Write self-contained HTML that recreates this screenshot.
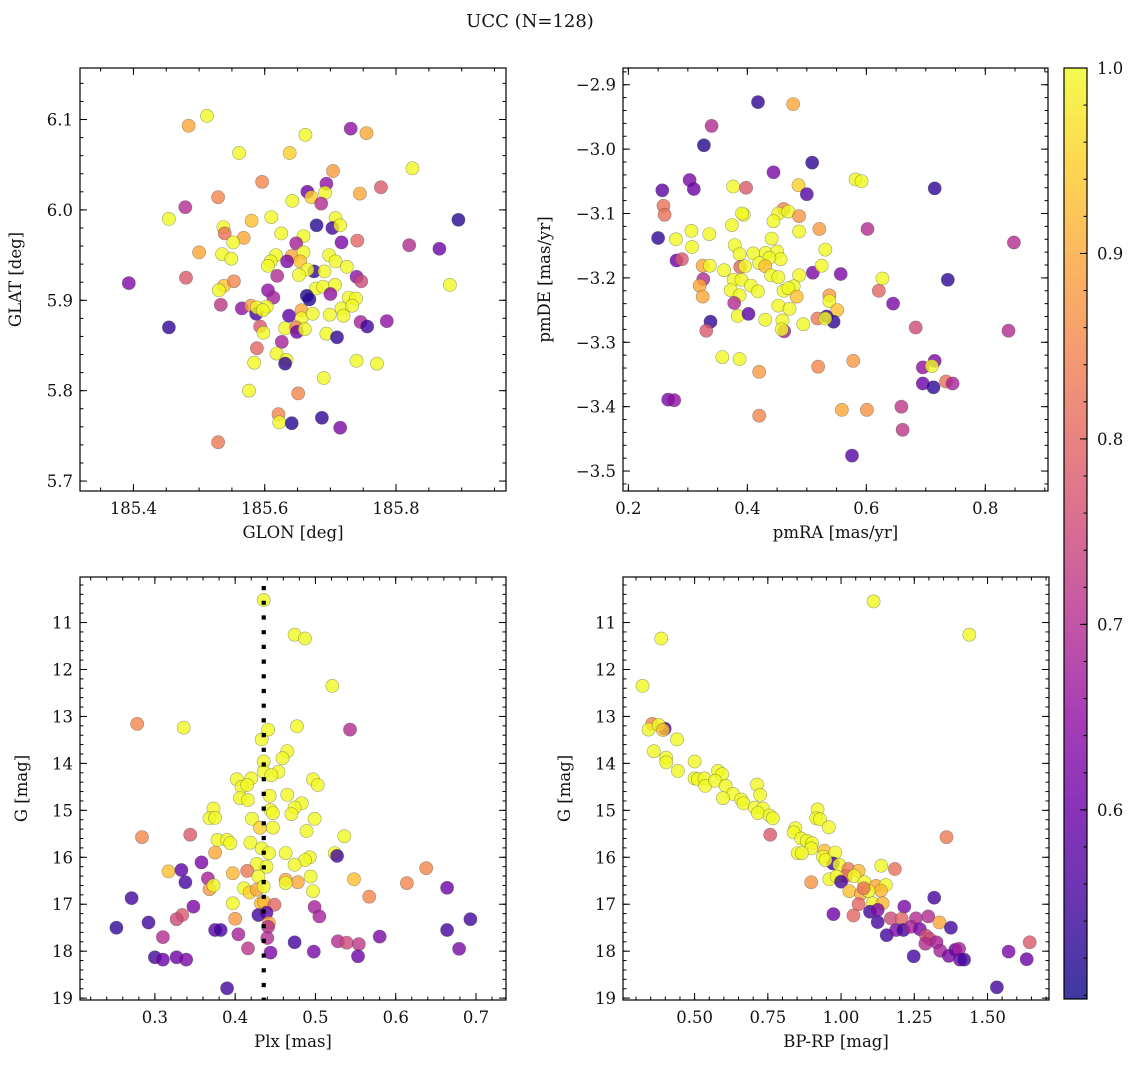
<!DOCTYPE html>
<html><head><meta charset="utf-8"><title>UCC (N=128)</title>
<style>
html,body{margin:0;padding:0;background:#fff;}
svg{display:block;font-family:"DejaVu Serif","Liberation Serif",serif;}
</style></head>
<body>
<svg id="fig" width="1136" height="1067" viewBox="0 0 1136 1067" xmlns="http://www.w3.org/2000/svg">
<text x="530" y="27" font-size="18" text-anchor="middle" fill="#111">UCC (N=128)</text>
</svg>
<script>
// ---------- Panel 1: GLON / GLAT ----------
const p1_glon=[185.512,185.484,185.731,185.755,185.662,185.561,185.638,185.825,185.704,185.596,185.694,185.777,185.665,185.529,185.745,185.692,185.671,185.642,185.686,185.479,185.454,185.610,185.580,185.708,185.679,185.703,185.715,185.895,185.537,185.539,185.625,185.568,185.552,185.659,185.648,185.717,185.741,185.820,185.866,185.500,185.535,185.549,185.617,185.641,185.659,185.698,185.609,185.634,185.654,185.708,185.605,185.675,185.665,185.691,185.725,185.652,185.619,185.740,185.747,185.480,185.393,185.538,185.553,185.530,185.605,185.613,185.678,185.689,185.707,185.700,185.882,185.664,185.668,185.728,185.739,185.533,185.565,185.579,185.587,185.588,185.603,185.597,185.637,185.656,185.656,185.673,185.699,185.717,185.720,185.733,185.454,185.593,185.598,185.631,185.648,185.649,185.661,185.746,185.756,185.786,185.694,185.710,185.626,185.588,185.618,185.633,185.631,185.584,185.740,185.771,185.690,185.576,185.651,185.621,185.622,185.641,185.687,185.715,185.529];
const p1_glat=[6.104,6.093,6.090,6.085,6.083,6.063,6.063,6.046,6.043,6.031,6.029,6.025,6.020,6.014,6.018,6.019,6.014,6.010,6.007,6.003,5.990,5.992,5.988,5.991,5.983,5.980,5.983,5.989,5.981,5.974,5.974,5.969,5.964,5.971,5.963,5.964,5.966,5.961,5.957,5.953,5.951,5.946,5.950,5.949,5.953,5.950,5.943,5.943,5.943,5.943,5.938,5.932,5.934,5.932,5.937,5.928,5.927,5.926,5.921,5.925,5.919,5.916,5.921,5.911,5.911,5.903,5.913,5.915,5.917,5.907,5.917,5.905,5.901,5.903,5.902,5.895,5.891,5.894,5.885,5.892,5.893,5.889,5.883,5.889,5.880,5.885,5.884,5.891,5.883,5.894,5.870,5.871,5.864,5.869,5.870,5.865,5.868,5.876,5.871,5.877,5.863,5.859,5.854,5.847,5.841,5.834,5.830,5.831,5.833,5.830,5.814,5.800,5.797,5.774,5.765,5.764,5.770,5.759,5.743];
const p1_prob=[1,0.9,0.65,0.9,1,1,0.95,1,0.88,0.85,0.65,0.78,0.6,0.85,0.9,1,0.95,1,0.7,0.7,1,1,0.93,1,0.52,0.55,1,0.52,1,0.82,1,0.9,1,1,0.68,0.62,0.8,0.7,0.6,0.9,1,1,1,0.9,1,1,1,0.62,0.93,1,1,0.53,1,1,1,1,0.7,0.65,0.75,0.78,0.63,0.93,0.85,1,0.65,0.68,1,1,1,0.65,1,0.52,0.52,1,1,0.72,0.65,0.88,0.55,1,1,1,0.58,0.9,1,1,1,1,1,1,0.53,0.78,1,1,0.85,0.6,1,0.68,0.55,0.65,1,0.53,0.68,0.8,1,1,0.53,1,1,1,1,1,0.85,0.85,1,0.52,0.53,0.62,0.83];
// ---------- Panel 2: pmRA / pmDE ----------
const p2_pmra=[0.418,0.477,0.340,0.327,0.509,0.444,0.303,0.257,0.310,0.376,0.398,0.486,0.500,0.582,0.592,0.715,0.259,0.261,0.394,0.391,0.374,0.461,0.452,0.469,0.487,0.444,0.521,0.602,0.250,0.280,0.306,0.336,0.307,0.487,0.441,0.379,0.531,0.848,0.387,0.410,0.431,0.450,0.456,0.437,0.420,0.430,0.281,0.290,0.325,0.337,0.388,0.396,0.361,0.510,0.525,0.557,0.737,0.326,0.377,0.390,0.406,0.440,0.452,0.487,0.627,0.320,0.325,0.372,0.418,0.461,0.478,0.469,0.483,0.387,0.621,0.538,0.538,0.378,0.452,0.471,0.551,0.645,0.384,0.402,0.430,0.459,0.494,0.518,0.533,0.545,0.531,0.338,0.331,0.462,0.458,0.683,0.839,0.358,0.387,0.578,0.519,0.420,0.715,0.695,0.710,0.695,0.713,0.734,0.745,0.267,0.277,0.559,0.601,0.659,0.420,0.661,0.576];
const p2_pmde=[-2.927,-2.930,-2.964,-2.994,-3.021,-3.036,-3.048,-3.064,-3.062,-3.058,-3.060,-3.056,-3.070,-3.047,-3.050,-3.061,-3.088,-3.102,-3.102,-3.100,-3.118,-3.093,-3.100,-3.097,-3.104,-3.112,-3.124,-3.124,-3.138,-3.140,-3.127,-3.132,-3.152,-3.128,-3.139,-3.149,-3.156,-3.145,-3.163,-3.162,-3.161,-3.159,-3.171,-3.169,-3.177,-3.182,-3.173,-3.171,-3.181,-3.181,-3.183,-3.182,-3.188,-3.192,-3.181,-3.194,-3.203,-3.202,-3.203,-3.203,-3.212,-3.196,-3.199,-3.196,-3.201,-3.212,-3.229,-3.219,-3.221,-3.220,-3.213,-3.216,-3.229,-3.227,-3.220,-3.227,-3.236,-3.239,-3.243,-3.248,-3.250,-3.240,-3.259,-3.256,-3.265,-3.266,-3.272,-3.263,-3.260,-3.268,-3.263,-3.268,-3.282,-3.283,-3.280,-3.277,-3.282,-3.323,-3.326,-3.329,-3.338,-3.346,-3.329,-3.339,-3.337,-3.364,-3.370,-3.361,-3.364,-3.389,-3.390,-3.405,-3.405,-3.400,-3.414,-3.436,-3.476];
const p2_prob=[0.53,0.9,0.7,0.52,0.53,0.62,0.62,0.58,0.6,1,0.78,0.95,0.57,1,1,0.53,0.82,0.82,1,1,1,0.85,1,1,0.87,1,0.88,0.7,0.53,1,1,1,1,1,1,1,1,0.7,1,1,1,1,1,1,1,0.93,0.6,0.78,0.9,1,0.8,1,1,0.62,1,0.62,0.53,0.7,1,1,1,1,1,1,1,0.9,0.9,1,1,1,1,1,0.93,1,0.8,0.88,1,0.7,1,1,0.93,0.62,1,0.58,1,1,1,0.83,0.55,0.53,1,0.53,0.78,0.68,1,0.75,0.7,1,1,0.88,0.85,0.88,0.62,0.65,1,0.6,0.53,0.82,0.68,0.62,0.65,0.9,0.87,0.72,0.85,0.72,0.57];
// ---------- Panel 3: Plx / G ----------
const p3_plx=[0.4356,0.474,0.487,0.521,0.278,0.336,0.543,0.477,0.441,0.433,0.465,0.459,0.4356,0.454,0.4356,0.445,0.402,0.420,0.408,0.415,0.497,0.503,0.406,0.416,0.443,0.465,0.483,0.474,0.373,0.368,0.375,0.444,0.447,0.470,0.421,0.499,0.431,0.447,0.489,0.344,0.284,0.536,0.378,0.390,0.394,0.419,0.433,0.375,0.442,0.463,0.524,0.527,0.493,0.487,0.358,0.427,0.439,0.474,0.638,0.317,0.333,0.397,0.415,0.429,0.494,0.366,0.548,0.338,0.478,0.463,0.463,0.614,0.664,0.368,0.373,0.411,0.418,0.427,0.4356,0.497,0.271,0.567,0.397,0.432,0.436,0.449,0.348,0.499,0.505,0.429,0.439,0.334,0.327,0.400,0.442,0.441,0.292,0.252,0.693,0.375,0.382,0.404,0.310,0.664,0.580,0.440,0.474,0.528,0.539,0.554,0.416,0.679,0.444,0.498,0.300,0.310,0.327,0.339,0.553,0.390];
const p3_g=[10.52,11.26,11.34,12.35,13.16,13.24,13.28,13.21,13.28,13.49,13.74,13.89,13.96,14.18,14.18,14.25,14.34,14.32,14.50,14.46,14.34,14.46,14.74,14.78,14.69,14.67,14.85,14.94,14.96,15.17,15.16,14.99,15.06,15.08,15.18,15.18,15.37,15.37,15.44,15.52,15.57,15.55,15.63,15.63,15.70,15.69,15.81,15.90,15.91,15.91,15.91,15.97,16.00,16.06,16.11,16.14,16.20,16.16,16.23,16.30,16.27,16.34,16.29,16.41,16.41,16.45,16.47,16.53,16.53,16.48,16.55,16.55,16.65,16.68,16.60,16.66,16.75,16.69,16.62,16.72,16.87,16.84,16.98,16.98,16.96,17.01,17.05,17.06,17.26,17.23,17.18,17.23,17.32,17.31,17.40,17.48,17.39,17.50,17.32,17.55,17.55,17.64,17.70,17.55,17.69,17.72,17.81,17.79,17.82,17.85,17.94,17.95,18.03,18.01,18.13,18.18,18.13,18.18,18.11,18.79];
const p3_prob=[1,1,1,1,0.85,1,0.7,1,1,1,1,1,1,1,1,1,1,1,1,1,1,1,1,1,1,1,1,1,1,1,1,1,1,1,1,1,0.95,1,1,0.78,0.85,1,1,1,1,1,1,0.9,1,1,1,0.55,1,1,0.62,1,1,1,0.85,0.93,0.58,0.92,0.83,1,1,0.68,0.93,0.55,0.9,0.9,1,0.85,0.6,0.88,1,1,0.95,0.9,1,1,0.55,0.85,1,0.93,0.92,0.8,0.62,0.68,0.68,0.55,0.58,0.78,0.75,0.88,0.9,0.7,0.55,0.53,0.55,0.58,0.55,0.68,0.7,0.55,0.62,0.7,0.55,0.7,0.75,0.72,0.72,0.62,0.62,0.62,0.55,0.6,0.6,0.62,0.6,0.55];
const p3_plxRef=[0.4356];
// ---------- Panel 4: BP-RP / G ----------
const p4_bprp=[1.111,1.438,0.386,0.322,0.355,0.398,0.343,0.377,0.392,0.440,0.361,0.403,0.403,0.500,0.443,0.580,0.594,0.500,0.511,0.534,0.536,0.570,0.606,0.713,0.631,0.659,0.667,0.724,0.597,0.705,0.733,0.716,0.756,0.767,0.920,0.915,0.928,0.958,0.758,1.360,0.844,0.838,0.864,0.883,0.901,0.898,0.852,0.866,0.943,0.980,0.972,0.938,0.947,0.994,1.025,1.137,1.184,1.060,1.017,1.045,0.960,0.985,0.898,1.000,1.080,1.119,1.153,1.136,1.028,1.068,1.094,1.077,1.108,1.142,1.060,1.318,1.216,0.974,1.042,1.099,1.125,1.125,1.170,1.207,1.256,1.298,1.336,1.156,1.188,1.213,1.239,1.269,1.375,1.290,1.303,1.326,1.288,1.339,1.368,1.390,1.403,1.406,1.420,1.248,1.572,1.644,1.634,1.532];
const p4_g=[10.55,11.26,11.34,12.35,13.16,13.26,13.28,13.18,13.29,13.49,13.74,13.88,13.98,13.96,14.16,14.16,14.23,14.32,14.34,14.32,14.48,14.37,14.48,14.45,14.65,14.77,14.85,14.67,14.74,14.94,14.96,15.06,15.11,15.17,14.98,15.17,15.19,15.36,15.52,15.57,15.38,15.47,15.60,15.65,15.70,15.81,15.91,15.91,15.86,15.90,16.13,15.99,16.06,16.16,16.25,16.18,16.25,16.29,16.40,16.40,16.47,16.41,16.53,16.52,16.53,16.61,16.59,16.71,16.72,16.78,16.72,16.66,16.98,16.98,17.00,16.86,17.05,17.21,17.24,17.16,17.12,17.38,17.30,17.31,17.30,17.26,17.39,17.66,17.55,17.55,17.48,17.53,17.50,17.67,17.74,17.81,17.84,17.99,18.10,17.97,17.95,18.18,18.18,18.11,18.01,17.81,18.17,18.77];
const p4_prob=[1,1,1,1,0.85,0.55,1,1,0.93,1,1,1,1,1,1,1,1,1,1,1,1,1,1,1,1,1,1,1,1,1,1,1,1,1,1,1,1,1,0.78,0.83,1,1,1,1,1,1,1,1,0.93,1,0.55,1,1,1,0.83,1,0.82,0.92,0.82,1,1,1,0.87,0.55,1,0.9,1,0.92,0.93,0.9,1,0.82,1,0.92,0.8,0.55,0.62,0.6,0.8,0.55,0.62,0.55,0.75,0.8,0.7,0.7,0.9,0.55,0.62,0.55,0.68,0.62,0.55,0.75,0.75,0.68,0.7,0.68,0.62,0.6,0.68,0.6,0.55,0.55,0.62,0.78,0.6,0.55];
// ---------- Tick labels ----------
const p1_xticks=[185.4,185.6,185.8];
const p1_yticks=[5.7,5.8,5.9,6.0,6.1];
const p2_xticks=[0.2,0.4,0.6,0.8];
const p2_yticks=[-3.5,-3.4,-3.3,-3.2,-3.1,-3.0,-2.9];
const p3_xticks=[0.3,0.4,0.5,0.6,0.7];
const g_ticks=[11,12,13,14,15,16,17,18,19];
const p4_xticks=[0.50,0.75,1.00,1.25,1.50];
const cb_ticks=[0.6,0.7,0.8,0.9,1.0];
const cb_range=[0.498,1.0];

const NS='http://www.w3.org/2000/svg';
const svg=document.getElementById('fig');
const FS=16.5;
const plasma=[[13,8,135],[65,4,157],[106,0,168],[143,13,164],[177,42,144],[204,71,120],[225,100,98],[242,132,75],[252,166,54],[252,206,37],[240,249,33]];
function cmap(v){
  let t=(v-cb_range[0])/(cb_range[1]-cb_range[0]);t=Math.max(0,Math.min(1,t));
  const f=t*10,i=Math.min(9,Math.floor(f)),r=f-i;
  const c=plasma[i].map((a,k)=>Math.round(a+(plasma[i+1][k]-a)*r));
  return 'rgb('+c.join(',')+')';
}
function mk(tag,attrs,parent){const e=document.createElementNS(NS,tag);for(const k in attrs)e.setAttribute(k,attrs[k]);(parent||svg).appendChild(e);return e;}
function fmt(v,d){return (v<0?'\u2212':'')+Math.abs(v).toFixed(d);}

function panel(cfg){
  const g=mk('g',{});
  
  
  const L=cfg.box[0],T=cfg.box[1],R=cfg.box[2],B=cfg.box[3];
  const sx=v=>L+(v-cfg.xr[0])/(cfg.xr[1]-cfg.xr[0])*(R-L);
  const sy=cfg.inv?(v=>T+(v-cfg.yr[0])/(cfg.yr[1]-cfg.yr[0])*(B-T)):(v=>B-(v-cfg.yr[0])/(cfg.yr[1]-cfg.yr[0])*(B-T));
  const pg=mk('g',{},g);
  
  
  for(let i=0;i<cfg.xs.length;i++){
    const c=mk('circle',{cx:sx(cfg.xs[i]).toFixed(1),cy:sy(cfg.ys[i]).toFixed(1),r:6.6,fill:cmap(cfg.ps[i]),'fill-opacity':0.8,stroke:'rgba(60,60,60,0.45)','stroke-width':0.6},pg);
    
    
  }
  if(cfg.vline){
    const vl=mk('line',{x1:sx(cfg.vline[0]),x2:sx(cfg.vline[0]),y1:T+9,y2:B,stroke:'#000','stroke-width':4.2,'stroke-dasharray':'4.2 10.5'},g);
    
    
  }
  const fr=mk('rect',{x:L,y:T,width:R-L,height:B-T,fill:'none',stroke:'#000','stroke-width':1.2},g);
  
  
  const tk=mk('g',{stroke:'#000','stroke-width':1},g);
  const eps=1e-9;
  for(let v=Math.ceil(cfg.xr[0]/cfg.xm-eps)*cfg.xm;v<=cfg.xr[1]+eps;v+=cfg.xm){const x=sx(v);mk('line',{x1:x,x2:x,y1:B,y2:B-3.5},tk);mk('line',{x1:x,x2:x,y1:T,y2:T+3.5},tk);}
  const ylo=Math.min(cfg.yr[0],cfg.yr[1]),yhi=Math.max(cfg.yr[0],cfg.yr[1]);
  for(let v=Math.ceil(ylo/cfg.ym-eps)*cfg.ym;v<=yhi+eps;v+=cfg.ym){const y=sy(v);mk('line',{x1:L,x2:L+3.5,y1:y,y2:y},tk);mk('line',{x1:R,x2:R-3.5,y1:y,y2:y},tk);}
  cfg.xt.forEach(v=>{const x=sx(v);mk('line',{x1:x,x2:x,y1:B,y2:B-7},tk);mk('line',{x1:x,x2:x,y1:T,y2:T+7},tk);
    const t=mk('text',{x:x,y:B+23,'font-size':FS,'text-anchor':'middle',fill:'#111'},g);t.textContent=fmt(v,cfg.xd);
    });
  cfg.yt.forEach(v=>{const y=sy(v);mk('line',{x1:L,x2:L+7,y1:y,y2:y},tk);mk('line',{x1:R,x2:R-7,y1:y,y2:y},tk);
    const t=mk('text',{x:L-7,y:y+6,'font-size':FS,'text-anchor':'end',fill:'#111'},g);t.textContent=fmt(v,cfg.yd);
    });
  const xl=mk('text',{x:(L+R)/2,y:B+47,'font-size':FS,'text-anchor':'middle',fill:'#111'},g);xl.textContent=cfg.xlabel;
  
  const yl=mk('text',{x:0,y:0,'font-size':FS,'text-anchor':'middle',fill:'#111',transform:'translate('+cfg.ylx+','+((T+B)/2)+') rotate(-90)'},g);yl.textContent=cfg.ylabel;
  
}

panel({name:'sky-panel',box:[80,68,506,491],xr:[185.3186,185.9675],yr:[5.689,6.157],xs:p1_glon,ys:p1_glat,ps:p1_prob,xt:p1_xticks,yt:p1_yticks,xm:0.05,ym:0.02,xd:1,yd:1,xlabel:'GLON [deg]',ylabel:'GLAT [deg]',ylx:21});
panel({name:'proper-motion-panel',box:[623,68,1048,491],xr:[0.191,0.9054],yr:[-3.531,-2.874],xs:p2_pmra,ys:p2_pmde,ps:p2_prob,xt:p2_xticks,yt:p2_yticks,xm:0.05,ym:0.02,xd:1,yd:1,xlabel:'pmRA [mas/yr]',ylabel:'pmDE [mas/yr]',ylx:550});
panel({name:'parallax-panel',box:[80,577,506,1000],xr:[0.2067,0.7374],yr:[10.03,19.04],inv:true,xs:p3_plx,ys:p3_g,ps:p3_prob,xt:p3_xticks,yt:g_ticks,xm:0.02,ym:0.2,xd:1,yd:0,xlabel:'Plx [mas]',ylabel:'G [mag]',ylx:27,vline:p3_plxRef});
panel({name:'cmd-panel',box:[623,577,1049,1000],xr:[0.2555,1.710],yr:[10.03,19.04],inv:true,xs:p4_bprp,ys:p4_g,ps:p4_prob,xt:p4_xticks,yt:g_ticks,xm:0.05,ym:0.2,xd:2,yd:0,xlabel:'BP-RP [mag]',ylabel:'G [mag]',ylx:570});

(function(){
  const L=1064,R=1087,T=68,B=999;
  const cg=mk('g',{});
  
  
  const defs=mk('defs',{},cg);
  const lg=mk('linearGradient',{id:'cbg',x1:0,y1:1,x2:0,y2:0},defs);
  for(let i=0;i<=20;i++){const v=cb_range[0]+(cb_range[1]-cb_range[0])*i/20;mk('stop',{offset:(i/20),'stop-color':cmap(v)},lg);}
  const r=mk('rect',{x:L,y:T,width:R-L,height:B-T,fill:'url(#cbg)','fill-opacity':0.8},cg);
  
  
  mk('rect',{x:L,y:T,width:R-L,height:B-T,fill:'none',stroke:'#000','stroke-width':1.2},cg);
  const sy=v=>B-(v-cb_range[0])/(cb_range[1]-cb_range[0])*(B-T);
  for(let v=0.5;v<=1.0001;v+=0.02){if(v<cb_range[0])continue;const y=sy(v);mk('line',{x1:R,x2:R-3.5,y1:y,y2:y,stroke:'#000'},cg);}
  cb_ticks.forEach(v=>{const y=sy(v);mk('line',{x1:R,x2:R-7,y1:y,y2:y,stroke:'#000'},cg);
    const t=mk('text',{x:R+10,y:y+6,'font-size':FS,fill:'#111'},cg);t.textContent=v.toFixed(1);
    });
})();
</script>
</body></html>
